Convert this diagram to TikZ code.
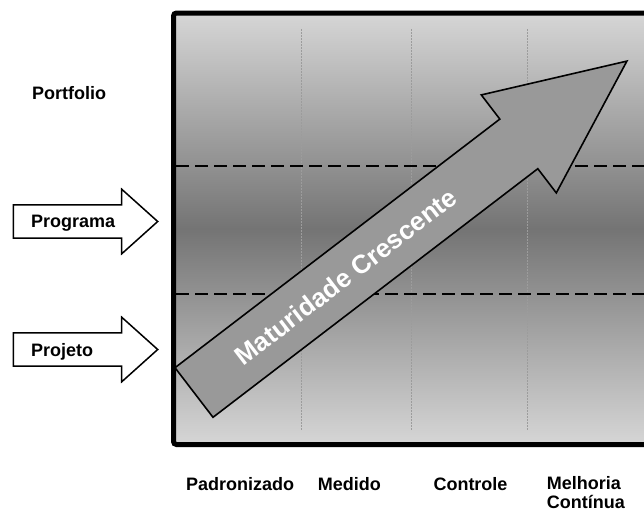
\documentclass[tikz,border=0pt]{standalone}
\usepackage{fontspec}
\setmainfont{Liberation Sans}

\definecolor{bandlight}{HTML}{D6D6D6}
\definecolor{banddark}{HTML}{747474}
\definecolor{arrowgray}{HTML}{999999}
\definecolor{gridgray}{HTML}{9C9C9C}

\tikzset{
  lbl/.style={font=\fontsize{18}{19}\selectfont\bfseries, inner sep=0pt, anchor=base west, align=left},
  blockarrow/.style={draw=black, line width=1.5pt, fill=white, line join=miter},
  bigarrow/.style={draw=black, line width=1.6pt, fill=arrowgray, line join=miter},
  stageline/.style={draw=gridgray, line width=1pt, dash pattern=on 1.5pt off 1.5pt},
  levelline/.style={draw=black, line width=1.8pt, dash pattern=on 13pt off 6pt},
  frameline/.style={draw=black, line width=5pt, rounded corners=3pt},
  pics/sidearrow/.style={code={
    \draw[blockarrow] (0,-16.7) -- (108.4,-16.7) -- (108.4,-32.3) -- (144.4,0)
      -- (108.4,32.3) -- (108.4,16.7) -- (0,16.7) -- cycle;}}
}

\begin{document}
\begin{tikzpicture}[x=1pt,y=-1pt]
\useasboundingbox (0,0) rectangle (644,512);

\begin{scope}
  \clip (0,0) rectangle (644,512);
  % shaded panel
  \shade[top color=bandlight, bottom color=bandlight, middle color=banddark]
    (173.5,13) rectangle (680,444.5);
  % stage separators
  \draw[stageline] (301.7,29) -- (301.7,430);
  \draw[stageline] (411.7,29) -- (411.7,430);
  \draw[stageline] (527.7,29) -- (527.7,430);
  % level separators
  \draw[levelline] (176,166) -- (680,166);
  \draw[levelline] (176,294) -- (680,294);
  % frame
  \draw[frameline] (680,13) -- (173.5,13) -- (173.5,444.5) -- (680,444.5);
\end{scope}

% maturity arrow
\coordinate (tailA) at (175.0,367.7);
\coordinate (tailB) at (213.0,417.3);
\coordinate (notchA) at (499.8,119.1);
\coordinate (barbA) at (481.3,94.9);
\coordinate (tip) at (626.9,61.1);
\coordinate (barbB) at (556.3,192.9);
\coordinate (notchB) at (537.8,168.7);
\draw[bigarrow] (tailA) -- (notchA) -- (barbA) -- (tip) -- (barbB) -- (notchB) -- (tailB) -- cycle;
\node[font=\fontsize{26}{28}\selectfont\bfseries, text=white, inner sep=0pt, rotate=37.43]
  (maturity) at (345.7,276.4) {Maturidade Crescente};

% side arrows
\pic at (13.3,221.5) {sidearrow};
\pic at (13.3,349.5) {sidearrow};

% level labels
\node[lbl] (portfolio) at (32,99.3) {Portfolio};
\node[lbl] (programa) at (31,227.7) {Programa};
\node[lbl] (projeto) at (31,356.7) {Projeto};

% stage labels
\node[lbl] (padronizado) at (186,490) {Padronizado};
\node[lbl] (medido) at (317.7,490) {Medido};
\node[lbl] (controle) at (433.3,490) {Controle};
\node[lbl] (melhoria) at (546.7,508) {Melhoria\\Contínua};
\end{tikzpicture}
\end{document}
